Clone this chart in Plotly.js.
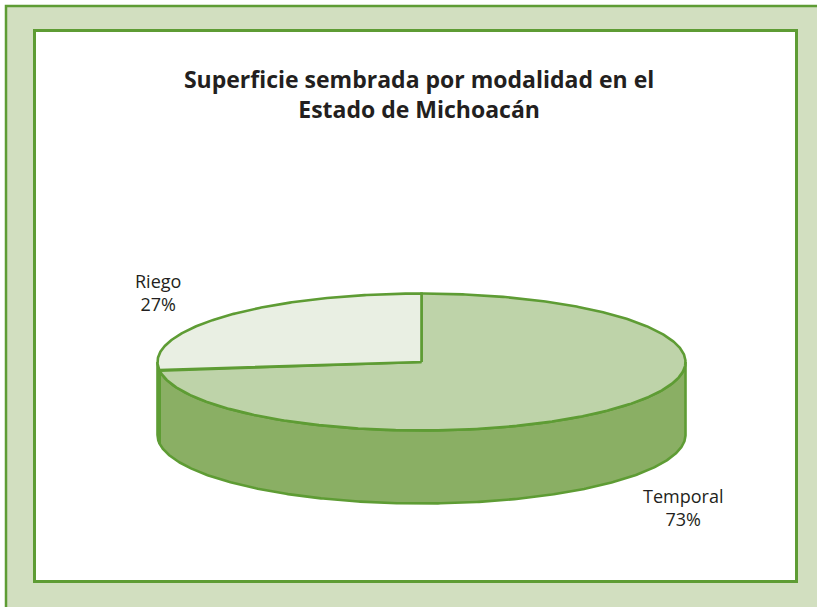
<!DOCTYPE html>
<html>
<head>
<meta charset="utf-8">
<script src="https://cdn.plot.ly/plotly-3.0.1.min.js"></script>
<style>html,body{margin:0;padding:0;background:#fff;}#chart{width:817px;height:607px;}</style>
</head>
<body>
<div id="chart"></div>
<script>
// ---- data ----
const categories = ['Temporal', 'Riego'];
const percents = [73, 27];
const chartTitle = 'Superficie sembrada por modalidad en el<br>Estado de Michoacán';

// ---- styles ----
const topColors = ['#bed3a9', '#e9efe3'];
const sideColors = ['#8aaf64', '#b4b8d4'];
const edgeColor = '#5e9c34';
const edgeWidth = 2.6;

// ---- 3D pie geometry (pixel space of the plot) ----
const geo = {cx: 421.5, cy: 362, rx: 264, ry: 68.5, depth: 73, start: -90};

function pt(deg, dy) {
  const t = deg * Math.PI / 180;
  return [geo.cx + geo.rx * Math.cos(t), geo.cy + dy + geo.ry * Math.sin(t)];
}
function arc(a, b, dy) {
  const xs = [], ys = [];
  const n = Math.max(2, Math.ceil(Math.abs(b - a) / 0.5));
  for (let i = 0; i <= n; i++) {
    const p = pt(a + (b - a) * i / n, dy);
    xs.push(p[0]); ys.push(p[1]);
  }
  return [xs, ys];
}

const total = percents.reduce((s, v) => s + v, 0);
const slices = [];
let acc = geo.start;
percents.forEach((v, i) => {
  const a0 = acc, a1 = acc + v / total * 360;
  slices.push({a0, a1, i});
  acc = a1;
});

const traces = [];
// side walls (front visible part: 0..180 deg)
slices.forEach(s => {
  const lo = Math.max(s.a0, 0), hi = Math.min(s.a1, 180);
  if (hi > lo) {
    const [tx, ty] = arc(lo, hi, 0);
    const [bx, by] = arc(hi, lo, geo.depth);
    traces.push({
      type: 'scatter', mode: 'lines', fill: 'toself',
      x: tx.concat(bx, [tx[0]]), y: ty.concat(by, [ty[0]]),
      fillcolor: sideColors[s.i],
      line: {color: edgeColor, width: edgeWidth},
      hoverinfo: 'skip', showlegend: false
    });
  }
});
// top faces
slices.forEach(s => {
  const [ax, ay] = arc(s.a0, s.a1, 0);
  traces.push({
    type: 'scatter', mode: 'lines', fill: 'toself',
    x: [geo.cx].concat(ax, [geo.cx]), y: [geo.cy].concat(ay, [geo.cy]),
    fillcolor: topColors[s.i],
    line: {color: edgeColor, width: edgeWidth},
    hoverinfo: 'skip', showlegend: false
  });
});

const labelPos = [{x: 683, y: 507}, {x: 158, y: 292}];
const annotations = categories.map((c, i) => ({
  x: labelPos[i].x, y: labelPos[i].y, xref: 'x', yref: 'y',
  text: c + '<br>' + percents[i] + '%', showarrow: false,
  xanchor: 'center', yanchor: 'middle', align: 'center',
  font: {family: 'Open Sans, sans-serif', size: 18, color: '#231f20'}
}));

const layout = {
  width: 817, height: 607,
  margin: {l: 0, r: 0, t: 0, b: 0},
  paper_bgcolor: '#ffffff', plot_bgcolor: 'rgba(0,0,0,0)',
  xaxis: {range: [0, 817], visible: false, fixedrange: true},
  yaxis: {range: [607, 0], visible: false, fixedrange: true},
  title: {
    text: chartTitle, x: 0.513, xanchor: 'center',
    yref: 'container', y: 1 - 88 / 607, yanchor: 'top',
    font: {family: 'Open Sans, sans-serif', size: 23, color: '#231f20', weight: 'bold'}
  },
  shapes: [
    {type: 'rect', xref: 'x', yref: 'y', x0: 6, y0: 6, x1: 830, y1: 620,
     fillcolor: '#d2dfc0', line: {color: edgeColor, width: 2.5}, layer: 'below'},
    {type: 'rect', xref: 'x', yref: 'y', x0: 34.5, y0: 30.5, x1: 796.5, y1: 581.5,
     fillcolor: '#ffffff', line: {color: edgeColor, width: 3}, layer: 'below'}
  ],
  annotations: annotations,
  showlegend: false
};

Plotly.newPlot('chart', traces, layout, {displayModeBar: false, staticPlot: true});
</script>
</body>
</html>
